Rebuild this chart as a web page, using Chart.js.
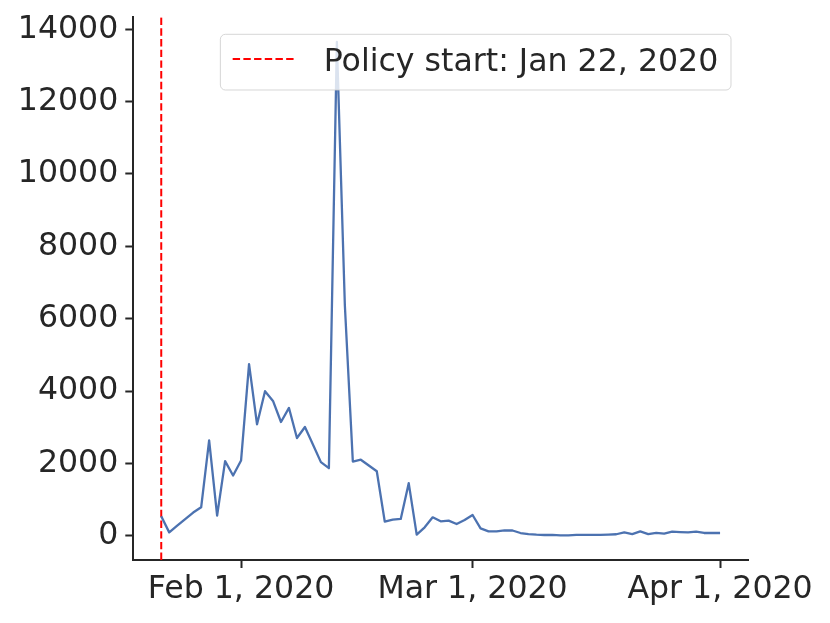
<!DOCTYPE html>
<html>
<head>
<meta charset="utf-8">
<script src="https://cdn.jsdelivr.net/npm/chart.js@4.4.0/dist/chart.umd.min.js"></script>
<style>
html, body { margin: 0; padding: 0; background: #fff; }
#wrap { width: 830px; height: 623px; }
</style>
</head>
<body>
<div id="wrap"><canvas id="chart" width="830" height="623"></canvas></div>
<script>
// one value per day, Jan 22, 2020 .. Apr 1, 2020
var newCases = [
    535, 92, 280, 460, 640, 785, 2635, 555, 2060, 1664,
    2080, 4743, 3079, 3994, 3726, 3144, 3532, 2700, 3005, 2520,
    2034, 1867, 13650, 6370, 2050, 2100, 1940, 1783, 390, 444,
    463, 1452, 28, 231, 508, 397, 416, 323, 435,
    573, 203, 120, 120, 147, 143, 74, 46, 30, 19,
    24, 10, 10, 20, 20, 20, 20, 30, 40, 92,
    45, 120, 45, 80, 60, 110, 100, 90, 110, 75,
    75, 75
];
var xTickDays = [10, 39, 70];
var xTickLabels = ['Feb 1, 2020', 'Mar 1, 2020', 'Apr 1, 2020'];
var yTicks = [0, 2000, 4000, 6000, 8000, 10000, 12000, 14000];
var policyDay = 0;
var policyLabel = 'Policy start: Jan 22, 2020';

var FONT = '"DejaVu Sans", "Liberation Sans", sans-serif';
var FSIZE = 31.6;
var INK = '#262626';

// matplotlib style 5% margins
var lastDay = newCases.length - 1;
var xPad = lastDay * 0.05;
var yLo = Math.min.apply(null, newCases), yHi = Math.max.apply(null, newCases);
var yPad = (yHi - yLo) * 0.05;

var points = newCases.map(function (v, i) { return { x: i, y: v }; });

var legendBox = {
    id: 'legendBox',
    afterDatasetsDraw: function (chart) {
        var ctx = chart.ctx, a = chart.chartArea;
        ctx.save();
        ctx.font = FSIZE + 'px ' + FONT;
        var tw = ctx.measureText(policyLabel).width;
        var w = 12.3 + 63.7 + 27.3 + tw + 12.7, h = 55.7;
        var x = a.right - 17 - w, y = a.top + 17;
        ctx.beginPath();
        ctx.roundRect(x, y, w, h, 5);
        ctx.fillStyle = 'rgba(255,255,255,0.8)';
        ctx.fill();
        ctx.lineWidth = 1;
        ctx.strokeStyle = 'rgba(204,204,204,0.8)';
        ctx.stroke();
        ctx.beginPath();
        ctx.setLineDash([7.4, 3.3]);
        ctx.moveTo(x + 12.3, y + 24.7);
        ctx.lineTo(x + 12.3 + 63.7, y + 24.7);
        ctx.strokeStyle = 'red';
        ctx.lineWidth = 2;
        ctx.stroke();
        ctx.setLineDash([]);
        ctx.fillStyle = INK;
        ctx.textBaseline = 'alphabetic';
        ctx.textAlign = 'left';
        ctx.fillText(policyLabel, x + 12.3 + 63.7 + 27.3, y + 36.4);
        ctx.restore();
    }
};

var ctx = document.getElementById('chart').getContext('2d');
var chart = new Chart(ctx, {
    type: 'line',
    data: {
        datasets: [{
            label: 'New cases',
            data: points,
            borderColor: '#4c72b0',
            borderWidth: 2.3,
            borderJoinStyle: 'round',
            pointRadius: 0,
            tension: 0
        }, {
            label: policyLabel,
            data: [{ x: policyDay, y: yLo - yPad }, { x: policyDay, y: yHi + yPad }],
            borderColor: 'red',
            borderWidth: 2,
            borderDash: [7.4, 3.3],
            pointRadius: 0
        }]
    },
    options: {
        responsive: false,
        animation: false,
        layout: { padding: { left: 0, right: 82, top: 17.3, bottom: 0 } },
        plugins: {
            legend: { display: false },
            tooltip: { enabled: false }
        },
        scales: {
            x: {
                type: 'linear',
                min: -xPad,
                max: lastDay + xPad,
                afterBuildTicks: function (scale) {
                    scale.ticks = xTickDays.map(function (d) { return { value: d }; });
                },
                afterFit: function (scale) { scale.height = 63; },
                grid: { drawOnChartArea: false, tickLength: 8, tickWidth: 2, tickColor: INK },
                border: { color: INK, width: 2 },
                ticks: {
                    autoSkip: false,
                    maxRotation: 0,
                    padding: 5.5,
                    color: INK,
                    font: { family: FONT, size: FSIZE, lineHeight: 1 },
                    callback: function (v) {
                        var i = xTickDays.indexOf(v);
                        return i >= 0 ? xTickLabels[i] : '';
                    }
                }
            },
            y: {
                min: yLo - yPad,
                max: yHi + yPad,
                afterBuildTicks: function (scale) {
                    scale.ticks = yTicks.map(function (v) { return { value: v }; });
                },
                afterFit: function (scale) { scale.width = 133.3; },
                grid: { drawOnChartArea: false, tickLength: 8, tickWidth: 2, tickColor: INK },
                border: { color: INK, width: 2 },
                ticks: {
                    padding: 7,
                    color: INK,
                    font: { family: FONT, size: FSIZE, lineHeight: 0.5 },
                    callback: function (v) { return String(v); }
                }
            }
        }
    },
    plugins: [legendBox]
});
</script>
</body>
</html>
